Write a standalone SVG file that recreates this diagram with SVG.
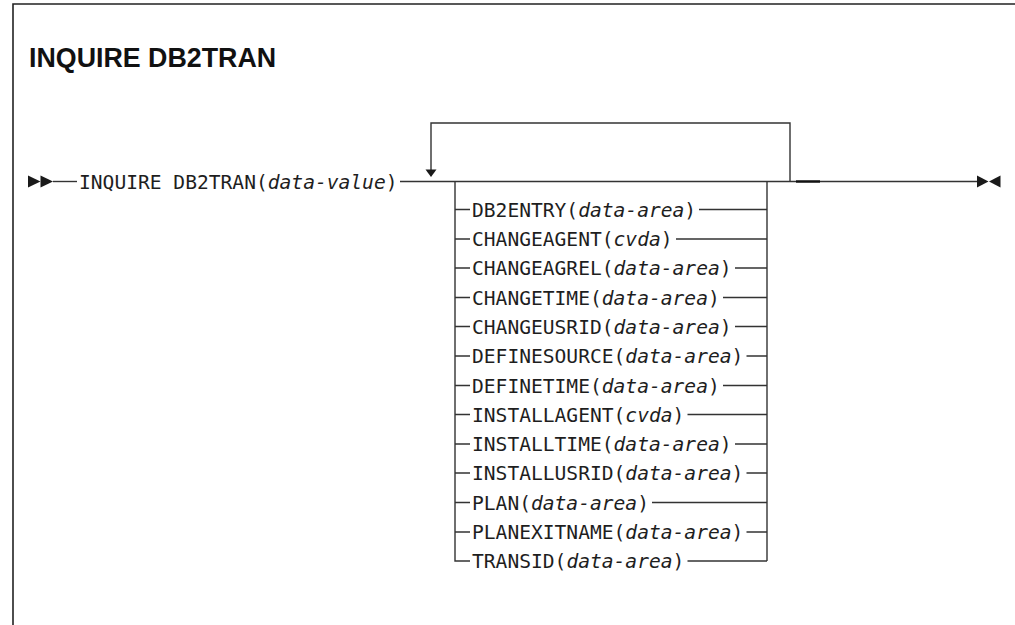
<svg xmlns="http://www.w3.org/2000/svg" width="1015" height="625" viewBox="0 0 1015 625">
<style>
.frame{fill:none;stroke:#222;stroke-width:1.6}
.ln{fill:none;stroke:#333;stroke-width:1.4}
.thick{fill:none;stroke:#111;stroke-width:2.4}
.ah{fill:#1a1a1a}
.t{font-family:"DejaVu Sans Mono","Liberation Mono",monospace;font-size:19.6px;fill:#1e1e1e}
.i{font-style:italic}
.title{font-family:"Liberation Sans",Arial,sans-serif;font-weight:bold;font-size:26.8px;fill:#111}
</style>
<rect width="1015" height="625" fill="#fff"/>
<path class="frame" d="M13 625 V4 H1015"/>
<text class="title" x="29" y="66.5">INQUIRE DB2TRAN</text>

<g id="connectors">
  <polygon class="ah" points="28,175.5 40.5,181.5 28,187.5"/>
  <polygon class="ah" points="40.5,175.5 53,181.5 40.5,187.5"/>
  <path class="ln" d="M53 181.5 H77"/>
  <path class="ln" d="M400 181.5 H977"/>
  <path class="thick" d="M796 181.5 H820"/>
  <polygon class="ah" points="977,175.5 988.5,181.5 977,187.5"/>
  <polygon class="ah" points="1000.5,175.5 989,181.5 1000.5,187.5"/>
  <path class="ln" d="M431 170 V123 H790 V181.5"/>
  <polygon class="ah" points="425.5,169.5 436.5,169.5 431,177"/>
  <path class="ln" d="M455 181.5 V561 H470"/>
  <path class="ln" d="M767 181.5 V561"/>
  <path class="ln" d="M455 209.5 H470 M699 209.5 H767"/>
  <path class="ln" d="M455 239 H470 M676 239 H767"/>
  <path class="ln" d="M455 268 H470 M735 268 H767"/>
  <path class="ln" d="M455 297.5 H470 M723 297.5 H767"/>
  <path class="ln" d="M455 326.5 H470 M735 326.5 H767"/>
  <path class="ln" d="M455 356 H470 M746.5 356 H767"/>
  <path class="ln" d="M455 385.5 H470 M723 385.5 H767"/>
  <path class="ln" d="M455 414.5 H470 M687.5 414.5 H767"/>
  <path class="ln" d="M455 444 H470 M735 444 H767"/>
  <path class="ln" d="M455 473 H470 M746.5 473 H767"/>
  <path class="ln" d="M455 502.5 H470 M652 502.5 H767"/>
  <path class="ln" d="M455 532 H470 M746.5 532 H767"/>
  <path class="ln" d="M687.5 561 H767"/>
</g>

<g id="n-inquire"><text class="t" x="79" y="188.5">INQUIRE DB2TRAN(<tspan class="i">data-value</tspan>)</text></g>
<g id="n-db2entry"><text class="t" x="472" y="216.5">DB2ENTRY(<tspan class="i">data-area</tspan>)</text></g>
<g id="n-changeagent"><text class="t" x="472" y="246">CHANGEAGENT(<tspan class="i">cvda</tspan>)</text></g>
<g id="n-changeagrel"><text class="t" x="472" y="275">CHANGEAGREL(<tspan class="i">data-area</tspan>)</text></g>
<g id="n-changetime"><text class="t" x="472" y="304.5">CHANGETIME(<tspan class="i">data-area</tspan>)</text></g>
<g id="n-changeusrid"><text class="t" x="472" y="333.5">CHANGEUSRID(<tspan class="i">data-area</tspan>)</text></g>
<g id="n-definesource"><text class="t" x="472" y="363">DEFINESOURCE(<tspan class="i">data-area</tspan>)</text></g>
<g id="n-definetime"><text class="t" x="472" y="392.5">DEFINETIME(<tspan class="i">data-area</tspan>)</text></g>
<g id="n-installagent"><text class="t" x="472" y="421.5">INSTALLAGENT(<tspan class="i">cvda</tspan>)</text></g>
<g id="n-installtime"><text class="t" x="472" y="451">INSTALLTIME(<tspan class="i">data-area</tspan>)</text></g>
<g id="n-installusrid"><text class="t" x="472" y="480">INSTALLUSRID(<tspan class="i">data-area</tspan>)</text></g>
<g id="n-plan"><text class="t" x="472" y="509.5">PLAN(<tspan class="i">data-area</tspan>)</text></g>
<g id="n-planexitname"><text class="t" x="472" y="539">PLANEXITNAME(<tspan class="i">data-area</tspan>)</text></g>
<g id="n-transid"><text class="t" x="472" y="568">TRANSID(<tspan class="i">data-area</tspan>)</text></g>
</svg>
